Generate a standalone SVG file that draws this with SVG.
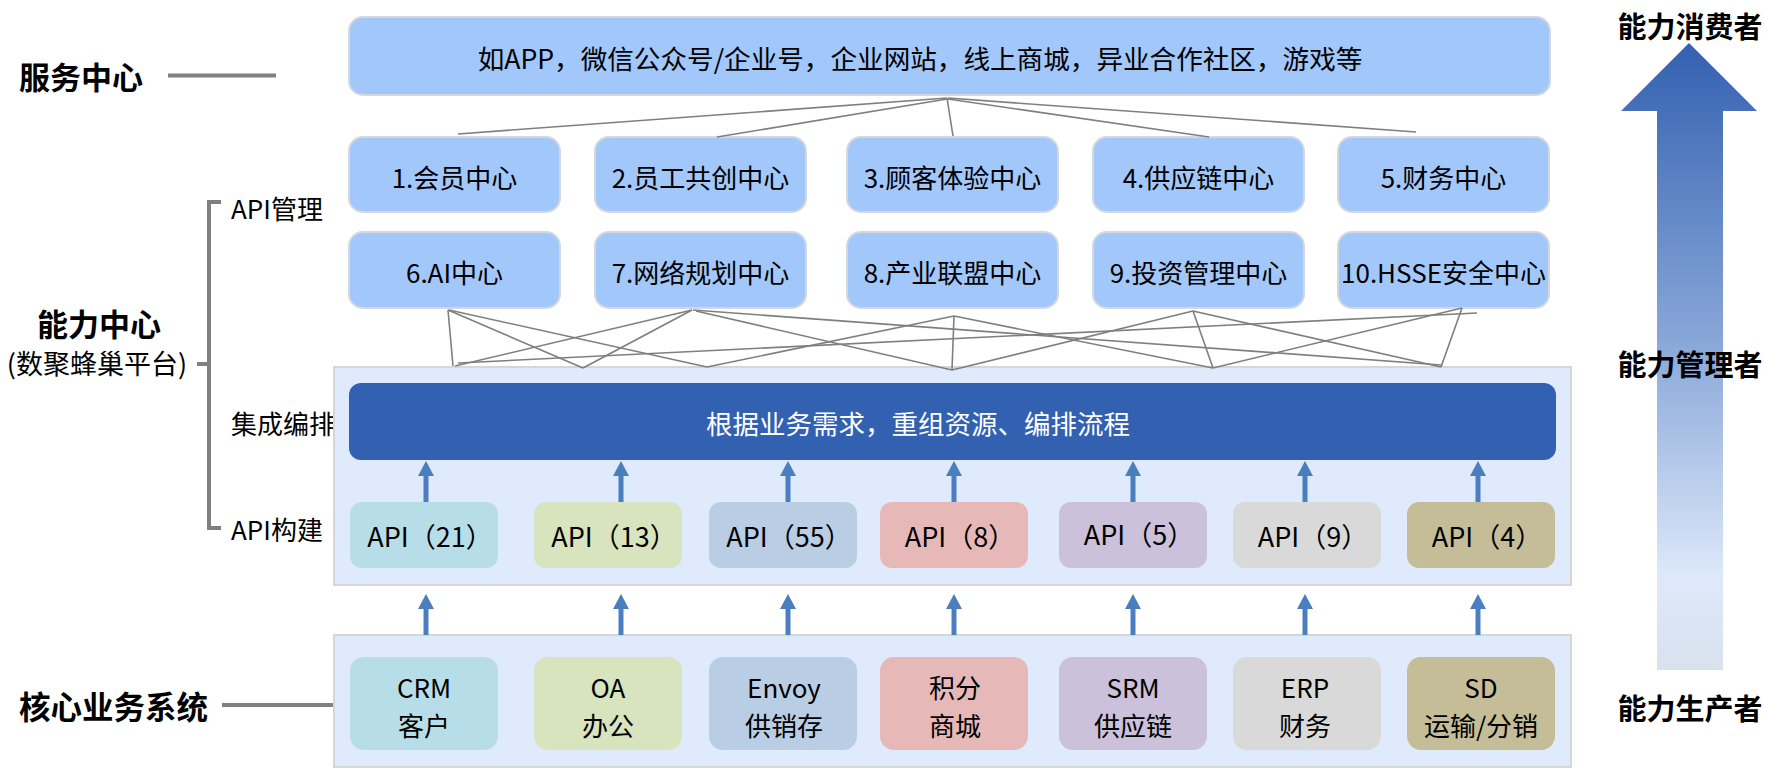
<svg xmlns="http://www.w3.org/2000/svg" width="1765" height="768" viewBox="0 0 1765 768">
<defs>
<style>
text{font-family:"Noto Sans CJK SC","Noto Sans",sans-serif;fill:#000}
.t26{font-size:26px}
.t27{font-size:27px}
.c{text-anchor:middle;dominant-baseline:central}
.b{font-weight:bold}
.lbl{font-size:26px;dominant-baseline:central}
.node{fill:#A2C7FA;stroke:#D3D8DE;stroke-width:2}
.cont{fill:#DFEAFC;stroke:#D6D6D6;stroke-width:2}
.fan line{stroke:#7F7F7F;stroke-width:1.6}
.gl{stroke:#808080;stroke-width:4;fill:none}
.ar{stroke:#4A7EBF;stroke-width:5;marker-end:url(#ah)}
</style>
<marker id="ah" viewBox="0 0 15 16" markerWidth="15" markerHeight="16" refX="0" refY="8" orient="auto" markerUnits="userSpaceOnUse">
<path d="M0,0 L15,8 L0,16 z" fill="#4A7EBF"/>
</marker>
<linearGradient id="bigArrow" x1="0" y1="0" x2="0" y2="1">
<stop offset="0" stop-color="#3360B0"/>
<stop offset="0.5" stop-color="#8DABDB"/>
<stop offset="0.85" stop-color="#DDE8FA"/>
<stop offset="1" stop-color="#D8E2EE"/>
</linearGradient>
</defs>
<rect width="1765" height="768" fill="#FFFFFF"/>

<!-- left labels -->
<g id="left-labels">
<text x="19" y="75" class="b" style="font-size:31px;dominant-baseline:central">服务中心</text>
<line x1="168" y1="75.5" x2="276" y2="75.5" class="gl"/>
<text x="99" y="322" class="c b" style="font-size:31px">能力中心</text>
<text x="97" y="362" class="c t27">(数聚蜂巢平台)</text>
<path d="M221,202 H209 V528 H221 M197,364 H209" class="gl"/>
<text x="231" y="207" class="lbl">API管理</text>
<text x="231" y="422" class="lbl">集成编排</text>
<text x="231" y="528" class="lbl">API构建</text>
<text x="19" y="705" class="b" style="font-size:31.5px;dominant-baseline:central">核心业务系统</text>
<line x1="222" y1="705" x2="333" y2="705" class="gl"/>
</g>

<!-- right side arrow -->
<g id="capability-arrow">
<polygon points="1689,43 1757,111 1723,111 1723,670 1657,670 1657,111 1621,111" fill="url(#bigArrow)"/>
<text x="1690" y="25" class="c b" style="font-size:29px">能力消费者</text>
<text x="1690" y="363" class="c b" style="font-size:29px">能力管理者</text>
<text x="1690" y="707" class="c b" style="font-size:29px">能力生产者</text>
</g>

<!-- containers -->
<g id="container-capability"><rect x="334" y="367" width="1237" height="218" class="cont"/></g>
<g id="container-core"><rect x="334" y="635" width="1237" height="132" class="cont"/></g>

<!-- service center -->
<g id="service-top">
<rect x="349" y="17" width="1201" height="78" rx="14" class="node"/>
<text x="920" y="57" class="c" style="font-size:26.6px">如APP，微信公众号/企业号，企业网站，线上商城，异业合作社区，游戏等</text>
</g>

<!-- row 1 -->
<g id="c1"><rect x="349" y="137" width="211" height="75" rx="14" class="node"/><text x="454.5" y="176" class="c t26">1.会员中心</text></g>
<g id="c2"><rect x="595" y="137" width="211" height="75" rx="14" class="node"/><text x="700.5" y="176" class="c t26">2.员工共创中心</text></g>
<g id="c3"><rect x="847" y="137" width="211" height="75" rx="14" class="node"/><text x="952.5" y="176" class="c t26">3.顾客体验中心</text></g>
<g id="c4"><rect x="1093" y="137" width="211" height="75" rx="14" class="node"/><text x="1198.5" y="176" class="c t26">4.供应链中心</text></g>
<g id="c5"><rect x="1338" y="137" width="211" height="75" rx="14" class="node"/><text x="1443.5" y="176" class="c t26">5.财务中心</text></g>

<!-- row 2 -->
<g id="c6"><rect x="349" y="232" width="211" height="76" rx="14" class="node"/><text x="454.5" y="271" class="c t26">6.AI中心</text></g>
<g id="c7"><rect x="595" y="232" width="211" height="76" rx="14" class="node"/><text x="700.5" y="271" class="c t26">7.网络规划中心</text></g>
<g id="c8"><rect x="847" y="232" width="211" height="76" rx="14" class="node"/><text x="952.5" y="271" class="c t26">8.产业联盟中心</text></g>
<g id="c9"><rect x="1093" y="232" width="211" height="76" rx="14" class="node"/><text x="1198.5" y="271" class="c t26">9.投资管理中心</text></g>
<g id="c10"><rect x="1338" y="232" width="211" height="76" rx="14" class="node"/><text x="1443.5" y="271" class="c t26">10.HSSE安全中心</text></g>

<!-- orchestration bar -->
<g id="orchestration">
<rect x="349" y="383" width="1207" height="77" rx="12" fill="#3261B1"/>
<text x="918" y="422" class="c" style="font-size:26.5px;fill:#FFFFFF">根据业务需求，重组资源、编排流程</text>
</g>

<!-- API boxes -->
<g id="api1"><rect x="350" y="502" width="148" height="66" rx="12" fill="#B7DDE8"/><text x="430" y="535" class="c t27">API（21）</text></g>
<g id="api2"><rect x="534" y="502" width="148" height="66" rx="12" fill="#D7E4BD"/><text x="614" y="535" class="c t27">API（13）</text></g>
<g id="api3"><rect x="709" y="502" width="148" height="66" rx="12" fill="#B9CDE5"/><text x="789" y="535" class="c t27">API（55）</text></g>
<g id="api4"><rect x="880" y="502" width="148" height="66" rx="12" fill="#E6B9B8"/><text x="960" y="535" class="c t27">API（8）</text></g>
<g id="api5"><rect x="1059" y="502" width="148" height="66" rx="12" fill="#CCC1DA"/><text x="1139" y="533" class="c t27">API（5）</text></g>
<g id="api6"><rect x="1233" y="502" width="148" height="66" rx="12" fill="#D9D9D9"/><text x="1313" y="535" class="c t27">API（9）</text></g>
<g id="api7"><rect x="1407" y="502" width="148" height="66" rx="12" fill="#C4BD97"/><text x="1487" y="535" class="c t27">API（4）</text></g>

<!-- core systems -->
<g id="sys1"><rect x="350" y="657" width="148" height="93" rx="14" fill="#B7DDE8"/><text x="424" y="686" class="c t26">CRM</text><text x="424" y="724" class="c t26">客户</text></g>
<g id="sys2"><rect x="534" y="657" width="148" height="93" rx="14" fill="#D7E4BD"/><text x="608" y="686" class="c t26">OA</text><text x="608" y="724" class="c t26">办公</text></g>
<g id="sys3"><rect x="709" y="657" width="148" height="93" rx="14" fill="#B9CDE5"/><text x="784" y="686" class="c t26">Envoy</text><text x="784" y="724" class="c t26">供销存</text></g>
<g id="sys4"><rect x="880" y="657" width="148" height="93" rx="14" fill="#E6B9B8"/><text x="955" y="686" class="c t26">积分</text><text x="955" y="724" class="c t26">商城</text></g>
<g id="sys5"><rect x="1059" y="657" width="148" height="93" rx="14" fill="#CCC1DA"/><text x="1133" y="686" class="c t26">SRM</text><text x="1133" y="724" class="c t26">供应链</text></g>
<g id="sys6"><rect x="1233" y="657" width="148" height="93" rx="14" fill="#D9D9D9"/><text x="1305" y="686" class="c t26">ERP</text><text x="1305" y="724" class="c t26">财务</text></g>
<g id="sys7"><rect x="1407" y="657" width="148" height="93" rx="14" fill="#C4BD97"/><text x="1481" y="686" class="c t26">SD</text><text x="1481" y="724" class="c t26">运输/分销</text></g>

<!-- connectors -->
<g id="connectors">
<g class="fan">
<line x1="947" y1="98" x2="458" y2="134"/>
<line x1="947" y1="99" x2="717" y2="137"/>
<line x1="947" y1="98" x2="953" y2="136"/>
<line x1="948" y1="99" x2="1209" y2="137"/>
<line x1="948" y1="98" x2="1416" y2="132"/>

<line x1="448" y1="310" x2="453" y2="366"/>
<line x1="448" y1="310" x2="583" y2="368"/>
<line x1="449" y1="310" x2="707" y2="367"/>
<line x1="692" y1="310" x2="455" y2="366"/>
<line x1="692" y1="310" x2="583" y2="368"/>
<line x1="693" y1="310" x2="1441" y2="365"/>
<line x1="696" y1="311" x2="952" y2="370"/>
<line x1="458" y1="363" x2="1477" y2="313"/>
<line x1="707" y1="367" x2="954" y2="316"/>
<line x1="954" y1="316" x2="952" y2="370"/>
<line x1="954" y1="316" x2="1213" y2="368"/>
<line x1="952" y1="370" x2="1193" y2="311"/>
<line x1="1193" y1="311" x2="1213" y2="368"/>
<line x1="1193" y1="311" x2="1441" y2="367"/>
<line x1="1213" y1="368" x2="1462" y2="308"/>
<line x1="1462" y1="308" x2="1441" y2="367"/>
</g>
<g id="arrows-api">
<line x1="426" y1="502" x2="426" y2="476" class="ar"/>
<line x1="621" y1="502" x2="621" y2="476" class="ar"/>
<line x1="788" y1="502" x2="788" y2="476" class="ar"/>
<line x1="954" y1="502" x2="954" y2="476" class="ar"/>
<line x1="1133" y1="502" x2="1133" y2="476" class="ar"/>
<line x1="1305" y1="502" x2="1305" y2="476" class="ar"/>
<line x1="1478" y1="502" x2="1478" y2="476" class="ar"/>
</g>
<g id="arrows-core">
<line x1="426" y1="635" x2="426" y2="609" class="ar"/>
<line x1="621" y1="635" x2="621" y2="609" class="ar"/>
<line x1="788" y1="635" x2="788" y2="609" class="ar"/>
<line x1="954" y1="635" x2="954" y2="609" class="ar"/>
<line x1="1133" y1="635" x2="1133" y2="609" class="ar"/>
<line x1="1305" y1="635" x2="1305" y2="609" class="ar"/>
<line x1="1478" y1="635" x2="1478" y2="609" class="ar"/>
</g>
</g>
</svg>
